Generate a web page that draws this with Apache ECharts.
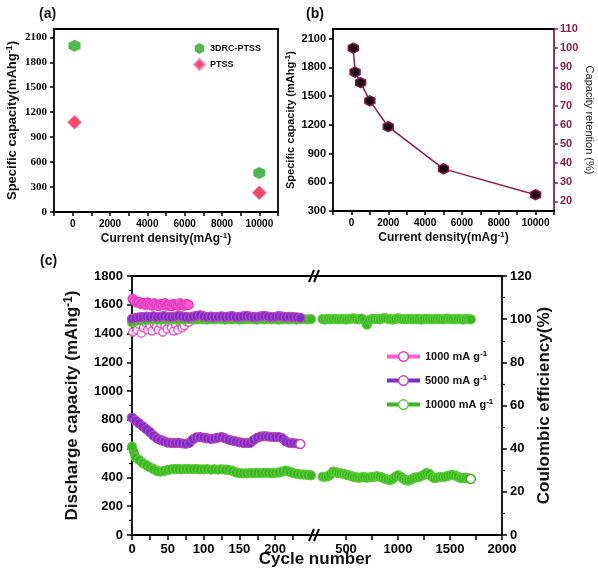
<!DOCTYPE html>
<html><head><meta charset="utf-8">
<script src="https://cdn.jsdelivr.net/npm/echarts@6/dist/echarts.min.js"></script>
<style>html,body{margin:0;padding:0;background:#fff}#c{width:598px;height:580px}</style>
</head><body><div id="c"></div>
<script>
// ---------- DATA ----------
// panel (a)
const aCurrent = [100, 10000];
const a3DRC = [2000, 470];
const aPTSS = [1080, 230];
// panel (b)
const bCurrent = [100, 200, 500, 1000, 2000, 5000, 10000];
const bCapacity = [2000, 1750, 1640, 1450, 1180, 740, 470];
const bRetentionTicks = [20, 30, 40, 50, 60, 70, 80, 90, 100, 110];
// panel (c) – 1000 mA g-1
const pinkCycles = [1,4,7,10,13,16,19,22,25,28,31,34,37,40,43,46,49,52,55,58,61,64,67,70,73,76,79];
const pinkCap = [1640,1625,1615,1620,1605,1612,1600,1615,1605,1595,1610,1600,1592,1605,1600,1610,1595,1600,1590,1605,1600,1595,1610,1600,1595,1605,1600];
const pinkCE = [94,98.5,95,97.5,93.5,96,98.5,95,97,94.5,98,96.5,95,98,94,97,95.5,98.5,96,94.5,97.5,95,98.5,96,97,99,98.5];
// 5000 mA g-1
const purpleCycles = [0,5,10,15,20,25,30,35,40,45,50,55,60,65,70,75,80,85,90,95,100,105,110,115,120,125,130,135,140,145,150,155,160,165,170,175,180,185,190,195,200,205,210,215,220,225,230,235];
const purpleCap = [815,795,775,755,735,715,690,672,660,650,642,640,638,640,636,634,640,665,678,680,676,672,668,670,676,680,672,662,656,650,644,640,638,640,660,676,684,686,684,682,680,680,672,650,640,638,636,632];
const purpleCE = [100.2,100.5,100.8,101,101.2,101,101.3,101,101.2,101.4,101.1,101,101.2,101.5,101.3,101,100.8,101.2,101.5,101.8,101.3,101,101.2,101,101.1,101.3,101,101.2,101.4,101,101.1,101.3,101.5,101.2,101,101.1,101.3,101.5,101.2,101,101.1,101.4,101.2,101,101.1,100.9,100.8,100.6];
// 10000 mA g-1 (left part of broken axis)
const greenCyclesL = [0,5,10,15,20,25,30,35,40,45,50,55,60,65,70,75,80,85,90,95,100,105,110,115,120,125,130,135,140,145,150,155,160,165,170,175,180,185,190,195,200,205,210,215,220,225,230,235,240,245,250];
const greenCapL = [615,540,520,500,485,470,458,445,440,445,452,456,458,458,456,458,458,457,458,456,456,457,455,456,455,456,455,452,445,435,430,428,428,430,430,432,430,432,432,430,432,434,440,448,440,430,425,422,420,418,415];
const greenCEL = [98.5,99.2,99.5,99.8,99.6,99.9,100,99.8,99.9,100,99.8,100,99.9,99.7,100,99.9,100.1,99.8,99.9,100,99.9,99.8,100,99.9,100.1,99.9,99.8,100,99.9,100,99.8,99.9,100,100.1,99.9,99.8,100,99.9,100,99.9,100,99.8,99.9,100.1,99.9,100,99.8,99.9,100,99.9,100];
// 10000 mA g-1 (right part of broken axis)
const greenCyclesR = [275,300,325,350,375,400,425,450,475,500,525,550,575,600,625,650,675,700,725,750,775,800,825,850,875,900,925,950,975,1000,1025,1050,1075,1100,1125,1150,1175,1200,1225,1250,1275,1300,1325,1350,1375,1400,1425,1450,1475,1500,1525,1550,1575,1600,1625,1650,1675,1700];
const greenCapR = [405,405,408,420,440,438,430,428,425,420,415,410,402,400,398,400,402,398,400,402,405,408,405,398,390,384,382,390,405,415,405,392,380,378,385,395,400,402,410,420,430,425,405,395,398,402,405,405,410,414,416,412,405,396,395,398,394,390];
const greenCER = [100,99.8,100.1,99.9,100,100.2,99.9,100,100.1,99.8,100,100.2,100.4,100.1,99.9,100.3,99.5,97.5,99.6,100,100.2,100.1,99.9,100.3,100.5,100.2,100,99.8,100.1,100.4,100.2,100,99.9,100.1,100.2,99.9,100,100.1,99.8,100,100.2,100.1,99.9,100,100.2,100.1,99.9,100,100.3,100.1,100,99.9,100.1,100,99.8,100,100.1,99.9];
// tick values for the broken x axis
const cLeftLabels = [0, 50, 100, 150, 200];
const cLeftTicks = [0, 25, 50, 75, 100, 125, 150, 175, 200, 225];
const cRightLabels = [500, 1000, 1500, 2000];
const cRightTicks = [500, 750, 1000, 1250, 1500, 1750, 2000];
const legendNames = ['1000 mA g-1', '5000 mA g-1', '10000 mA g-1'];

// ---------- CHART ----------
const FONT = '"Liberation Sans", Arial, sans-serif';
const zip = (xs, ys) => xs.map((x, i) => [x, ys[i]]);
const HEX = 'path://M5 0 L10 2.9 L10 8.7 L5 11.6 L0 8.7 L0 2.9 Z';
const PINK = '#ff5ad0', PINK_E = '#e040c0', PURPLE = '#7a2fcc', PURPLE_E = '#c04ab8', GREEN = '#3db424', GREEN_E = '#5ccf3a';
const MAROON = '#8b1d4f';
const plain = v => String(v);

const G = [
  {left: 54, top: 29, width: 224, height: 183},
  {left: 333, top: 29, width: 221, height: 182},
  {left: 132, top: 276, width: 179, height: 259},
  {left: 320, top: 276, width: 182, height: 259}
];

const lineOnly = (extra) => Object.assign({
  type: 'value', axisTick: {show: false}, axisLabel: {show: false}, splitLine: {show: false},
  axisLine: {show: true, onZero: false, lineStyle: {color: '#000', width: 1.8}}
}, extra);

function supName(main, sup, tail, fs, ss) {
  return {
    name: '{n|' + main + '}{s|' + sup + '}{n|' + tail + '}',
    rich: {
      n: {fontSize: fs, fontWeight: 'bold', fontFamily: FONT, color: '#111', lineHeight: fs + 2},
      s: {fontSize: ss, fontWeight: 'bold', fontFamily: FONT, color: '#111', lineHeight: fs + 2, verticalAlign: 'top'}
    }
  };
}

const curName = supName('Current density(mAg', '-1', ')', 12, 8);
const aYName = supName('Specific capacity(mAhg', '-1', ')', 13, 9);
const bYName = supName('Specific capacity (mAhg', '-1', ')', 11, 8);
const cYName = supName('Discharge capacity (mAhg', '-1', ')', 17, 12);

const lblBold = (fs, extra) => Object.assign({fontSize: fs, fontWeight: 'bold', color: '#000', fontFamily: FONT, formatter: plain}, extra || {});
const tick = (len) => ({show: true, length: len, lineStyle: {color: '#000', width: 1.5}});
const axLine = (c) => ({show: true, onZero: false, lineStyle: {color: c || '#000', width: 1.8}});
const evenThousands = v => (v >= 0 && v % 2000 === 0) ? String(v) : '';

const xAxis = [
  // (a)
  {gridIndex: 0, type: 'value', position: 'bottom', min: -1000, max: 11000, interval: 1000,
    axisLine: axLine(), axisTick: tick(4), splitLine: {show: false},
    axisLabel: lblBold(10, {margin: 7, formatter: evenThousands}),
    name: curName.name, nameLocation: 'middle', nameGap: 20, nameTextStyle: {rich: curName.rich}},
  lineOnly({gridIndex: 0, position: 'top', min: -1000, max: 11000}),
  // (b)
  {gridIndex: 1, type: 'value', position: 'bottom', min: -1000, max: 11000, interval: 1000,
    axisLine: axLine(), axisTick: tick(4), splitLine: {show: false},
    axisLabel: lblBold(10, {margin: 7, formatter: evenThousands}),
    name: curName.name, nameLocation: 'middle', nameGap: 20, nameTextStyle: {rich: curName.rich}},
  lineOnly({gridIndex: 1, position: 'top', min: -1000, max: 11000}),
  // (c) left segment
  {gridIndex: 2, type: 'value', position: 'bottom', min: 0, max: 250,
    axisLine: axLine(), splitLine: {show: false},
    axisTick: Object.assign(tick(5), {customValues: cLeftTicks}),
    axisLabel: lblBold(13, {margin: 8, customValues: cLeftLabels})},
  lineOnly({gridIndex: 2, position: 'top', min: 0, max: 250}),
  // (c) right segment
  {gridIndex: 3, type: 'value', position: 'bottom', min: 250, max: 2000,
    axisLine: axLine(), splitLine: {show: false},
    axisTick: Object.assign(tick(5), {customValues: cRightTicks}),
    axisLabel: lblBold(13, {margin: 8, customValues: cRightLabels})},
  lineOnly({gridIndex: 3, position: 'top', min: 250, max: 2000})
];

const yAxis = [
  // (a)
  {gridIndex: 0, type: 'value', position: 'left', min: 0, max: 2200, interval: 300,
    axisLine: axLine(), axisTick: tick(4), splitLine: {show: false},
    axisLabel: {fontSize: 11, fontWeight: 'bold', color: '#000', fontFamily: '"Liberation Serif", "Times New Roman", serif', margin: 7, showMaxLabel: false, formatter: plain},
    name: aYName.name, nameLocation: 'middle', nameGap: 34, nameRotate: 90, nameTextStyle: {rich: aYName.rich}},
  lineOnly({gridIndex: 0, position: 'right', min: 0, max: 2200}),
  // (b)
  {gridIndex: 1, type: 'value', position: 'left', min: 300, max: 2200, interval: 300,
    axisLine: axLine(), axisTick: tick(4), splitLine: {show: false},
    axisLabel: lblBold(11, {margin: 7, showMaxLabel: false}),
    name: bYName.name, nameLocation: 'middle', nameGap: 36, nameRotate: 90, nameTextStyle: {rich: bYName.rich}},
  {gridIndex: 1, type: 'value', position: 'right', min: 15, max: 110,
    axisLine: axLine(MAROON), splitLine: {show: false},
    axisTick: {show: true, length: 4, lineStyle: {color: MAROON, width: 1.5}, customValues: bRetentionTicks},
    axisLabel: lblBold(11, {color: MAROON, margin: 6, customValues: bRetentionTicks}),
    name: 'Capacity retention (%)', nameLocation: 'middle', nameGap: 30, nameRotate: -90,
    nameTextStyle: {fontSize: 11, color: '#222', fontFamily: FONT}},
  // (c) left segment
  {gridIndex: 2, type: 'value', position: 'left', min: 0, max: 1800, interval: 200,
    axisLine: axLine(), axisTick: tick(5), splitLine: {show: false},
    minorTick: {show: true, splitNumber: 2, length: 3, lineStyle: {color: '#000', width: 1.2}},
    axisLabel: lblBold(13, {margin: 9}),
    name: cYName.name, nameLocation: 'middle', nameGap: 50, nameRotate: 90, nameTextStyle: {rich: cYName.rich}},
  {gridIndex: 2, type: 'value', position: 'right', min: 0, max: 120, show: false},
  // (c) right segment
  {gridIndex: 3, type: 'value', position: 'left', min: 0, max: 1800, show: false},
  {gridIndex: 3, type: 'value', position: 'right', min: 0, max: 120, interval: 20,
    axisLine: axLine(), axisTick: tick(5), splitLine: {show: false},
    minorTick: {show: true, splitNumber: 2, length: 3, lineStyle: {color: '#000', width: 1.2}},
    axisLabel: lblBold(13, {margin: 8}),
    name: 'Coulombic efficiency(%)', nameLocation: 'middle', nameGap: 34, nameRotate: 90,
    nameTextStyle: {fontSize: 17, fontWeight: 'bold', color: '#111', fontFamily: FONT}}
];

const bandLine = (name, xi, yi, data, lc, ec, extra) => Object.assign({
  type: 'line', name, xAxisIndex: xi, yAxisIndex: yi, data,
  symbol: 'circle', symbolSize: 9, showSymbol: true,
  lineStyle: {color: lc, width: 9}, itemStyle: {color: lc, borderColor: ec, borderWidth: 1.2},
  emphasis: {disabled: true}, animation: false
}, extra || {});

function hollowLast(arr, color) {
  return arr.map((p, i) => i === arr.length - 1 ? {value: p, itemStyle: {color: '#fff', borderColor: color, borderWidth: 1.5}, symbolSize: 9} : p);
}

const series = [
  // (a)
  {type: 'scatter', name: '3DRC-PTSS', xAxisIndex: 0, yAxisIndex: 0, data: zip(aCurrent, a3DRC),
    symbol: HEX, symbolSize: 12, itemStyle: {color: '#22a822'}},
  {type: 'scatter', name: 'PTSS', xAxisIndex: 0, yAxisIndex: 0, data: zip(aCurrent, aPTSS),
    symbol: 'diamond', symbolSize: 14, itemStyle: {color: '#f21c3e', borderColor: '#ff7fcf', borderWidth: 1}},
  // (b)
  {type: 'line', name: 'rate', xAxisIndex: 2, yAxisIndex: 2, data: zip(bCurrent, bCapacity),
    symbol: HEX, symbolSize: 10, lineStyle: {color: MAROON, width: 1.5},
    itemStyle: {color: '#1c0c10', borderColor: MAROON, borderWidth: 1.5}},
  // (c) green
  bandLine('10000 mA g-1', 4, 4, zip(greenCyclesL, greenCapL), GREEN, GREEN_E),
  bandLine('10000 mA g-1', 4, 5, zip(greenCyclesL, greenCEL), GREEN, GREEN_E),
  bandLine('10000 mA g-1', 6, 6, hollowLast(zip(greenCyclesR, greenCapR), GREEN), GREEN, GREEN_E),
  bandLine('10000 mA g-1', 6, 7, zip(greenCyclesR, greenCER), GREEN, GREEN_E),
  // (c) purple
  bandLine('5000 mA g-1', 4, 4, hollowLast(zip(purpleCycles, purpleCap), PURPLE_E), PURPLE, PURPLE_E),
  bandLine('5000 mA g-1', 4, 5, zip(purpleCycles, purpleCE), PURPLE, PURPLE_E),
  // (c) pink
  bandLine('1000 mA g-1', 4, 4, zip(pinkCycles, pinkCap), PINK, PINK_E, {symbolSize: 9, lineStyle: {color: PINK, width: 8}, itemStyle: {color: PINK, borderColor: PINK_E, borderWidth: 1.5}}),
  {type: 'scatter', name: '1000 mA g-1', xAxisIndex: 4, yAxisIndex: 5, data: zip(pinkCycles, pinkCE),
    symbol: 'circle', symbolSize: 8, itemStyle: {color: '#fff', borderColor: PINK_E, borderWidth: 1.6}}
];

const legendColors = [[PINK, PINK_E], [PURPLE, PURPLE_E], [GREEN, GREEN_E]];

const option = {
  backgroundColor: '#fff',
  animation: false,
  textStyle: {fontFamily: FONT},
  title: [
    {text: '(a)', left: 34, top: 2, textStyle: {fontSize: 14, fontWeight: 'bold', color: '#111', fontFamily: FONT}},
    {text: '(b)', left: 301, top: 2, textStyle: {fontSize: 14, fontWeight: 'bold', color: '#111', fontFamily: FONT}},
    {text: '(c)', left: 35, top: 249, textStyle: {fontSize: 14, fontWeight: 'bold', color: '#111', fontFamily: FONT}},
    {text: 'Cycle number', left: 310, top: 546, textAlign: 'center', textStyle: {fontSize: 17, fontWeight: 'bold', color: '#111', fontFamily: FONT}}
  ],
  grid: G,
  legend: [
    {data: ['3DRC-PTSS', 'PTSS'], orient: 'vertical', left: 188, top: 38, itemWidth: 11, itemHeight: 11, itemGap: 4,
      textStyle: {fontSize: 9, fontWeight: 'bold', color: '#111', fontFamily: FONT}},
    {data: legendNames.map((n, i) => ({name: n,
        lineStyle: {color: legendColors[i][0], width: 4},
        itemStyle: {color: '#fff', borderColor: legendColors[i][1], borderWidth: 1.5}})),
      orient: 'vertical', left: 380, top: 345, itemWidth: 33, itemHeight: 12, itemGap: 12,
      formatter: n => '{t|' + n.replace(/-1$/, '') + '}{s|-1}',
      textStyle: {fontSize: 11, fontWeight: 'bold', color: '#111', fontFamily: FONT,
        rich: {t: {fontSize: 11, fontWeight: 'bold', color: '#111', lineHeight: 13},
               s: {fontSize: 8, fontWeight: 'bold', color: '#111', verticalAlign: 'top', lineHeight: 13}}}}
  ],
  xAxis, yAxis, series,
  graphic: (function () {
    const xL = G[2].left + G[2].width, xR = G[3].left;
    const yT = G[2].top, yB = G[2].top + G[2].height;
    const els = [];
    [yT, yB].forEach(y => {
      els.push({type: 'line', shape: {x1: xL, y1: y, x2: xR, y2: y}, style: {stroke: '#000', lineWidth: 1.8}, z: 100});
      els.push({type: 'line', shape: {x1: xL - 2, y1: y + 6, x2: xL + 3, y2: y - 6}, style: {stroke: '#000', lineWidth: 2}, z: 101});
      els.push({type: 'line', shape: {x1: xL + 3, y1: y + 6, x2: xL + 8, y2: y - 6}, style: {stroke: '#000', lineWidth: 2}, z: 101});
    });
    return els;
  })()
};

const chart = echarts.init(document.getElementById('c'), null, {renderer: 'canvas'});
chart.setOption(option);
</script>
</body></html>
